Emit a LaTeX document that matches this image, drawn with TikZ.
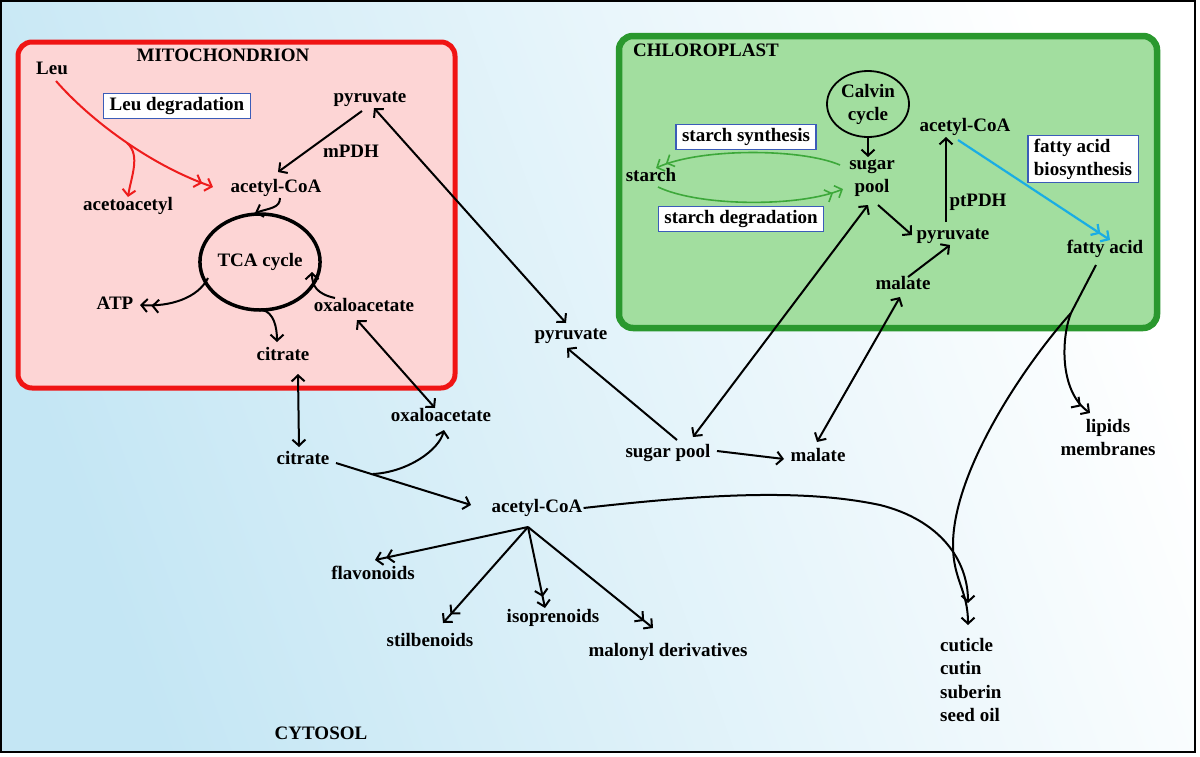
\documentclass[tikz,border=0pt]{standalone}
\usepackage{fontspec}
\setmainfont{Liberation Serif}
\usetikzlibrary{arrows.meta,shapes.geometric,calc}
\definecolor{bgblue}{HTML}{C4E6F4}
\definecolor{mitored}{HTML}{F01414}
\definecolor{mitofill}{HTML}{FDD5D5}
\definecolor{chlgreen}{HTML}{2A982E}
\definecolor{chlfill}{HTML}{A2DE9F}
\definecolor{boxblue}{HTML}{3B5CB8}
\definecolor{arrred}{HTML}{EE1C1C}
\definecolor{arrgreen}{HTML}{3DA83A}
\definecolor{arrcyan}{HTML}{1AADE4}
\begin{document}
\begin{tikzpicture}[x=1pt,y=-1pt,
  txt/.style={font=\fontsize{19}{23}\selectfont\bfseries},
  lbl/.style={txt, inner sep=1pt, text height=13.5pt, text depth=4pt},
  ml/.style={txt, inner sep=1pt, align=center},
  bx/.style={lbl, draw=boxblue, fill=white, line width=1.2pt, inner xsep=6pt, inner ysep=4pt},
  sb/.tip={Straight Barb[length=6pt,width=13pt]},
  db/.tip={Straight Barb[length=6pt,width=13pt,sep=3pt] Straight Barb[length=6pt,width=13pt]},
  ar/.style={line width=2pt, -sb},
  ard/.style={line width=2pt, -db},
  bi/.style={line width=2pt, sb-sb},
  redar/.style={draw=arrred, line width=2pt},
  grnar/.style={draw=arrgreen, line width=1.6pt, -db},
  cyanar/.style={draw=arrcyan, line width=2.2pt, -db}
]
\useasboundingbox (0,0) rectangle (1200,756);
\fill[white] (0,0) rectangle (1200,756);
\shade[top color=white, bottom color=bgblue, shading angle=-70] (1,1) rectangle (1195,752);
\draw[line width=1.2pt] (1,1) rectangle (1195,752);

% compartments
\draw[draw=mitored, fill=mitofill, line width=5pt, rounded corners=14pt] (18,42) rectangle (455,388);
\draw[draw=chlgreen, fill=chlfill, line width=6.5pt, rounded corners=14pt] (619,36) rectangle (1157,328);

% mitochondrion nodes
\node[lbl] (mtitle) at (223,57) {MITOCHONDRION};
\node[lbl] (leu) at (52,70) {Leu};
\node[bx] (leudeg) at (177,106) {Leu degradation};
\node[lbl] (pyrm) at (370,98) {pyruvate};
\node[lbl] (mpdh) at (351,153) {mPDH};
\node[lbl] (acm) at (276,188) {acetyl-CoA};
\node[lbl] (acac) at (128,206) {acetoacetyl};
\node[txt, ellipse, draw, line width=3.5pt, inner sep=0pt, minimum width=104pt, minimum height=96pt] (tca) at (260,262) {TCA cycle};
\node[lbl] (atp) at (115,305) {ATP};
\node[lbl] (oxm) at (364,307) {oxaloacetate};
\node[lbl] (citm) at (283,356) {citrate};

% chloroplast nodes
\node[lbl] (ctitle) at (706,52) {CHLOROPLAST};
\node[ml, ellipse, draw, line width=1.8pt, inner sep=0pt, minimum width=82pt, minimum height=66pt] (calvin) at (868,104) {Calvin\\cycle};
\node[ml] (sugp) at (872,178) {sugar\\pool};
\node[bx] (starsyn) at (746,137) {starch synthesis};
\node[lbl] (starch) at (651,177) {starch};
\node[bx] (stardeg) at (741,219) {starch degradation};
\node[lbl] (acp) at (965,127) {acetyl-CoA};
\node[ml, align=left, draw=boxblue, fill=white, line width=1.2pt, inner xsep=6pt, inner ysep=3pt] (fabox) at (1083,159) {fatty acid\\biosynthesis};
\node[lbl] (ptpdh) at (978,202) {ptPDH};
\node[lbl] (pyrp) at (953,235) {pyruvate};
\node[lbl] (fa) at (1105,249) {fatty acid};
\node[lbl] (malp) at (903,285) {malate};

% cytosol nodes
\node[lbl] (pyrc) at (571,335) {pyruvate};
\node[lbl] (oxc) at (441,417) {oxaloacetate};
\node[lbl] (citc) at (303,460) {citrate};
\node[lbl] (sugc) at (668,453) {sugar pool};
\node[lbl] (malc) at (818,457) {malate};
\node[lbl] (acc) at (537,508) {acetyl-CoA};
\node[lbl] (flav) at (373,575) {flavonoids};
\node[lbl] (stil) at (430,642) {stilbenoids};
\node[lbl] (iso) at (553,618) {isoprenoids};
\node[lbl] (malo) at (668,652) {malonyl derivatives};
\node[ml] (lip) at (1108,437) {lipids\\membranes};
\node[txt, font=\fontsize{19}{23.5}\selectfont\bfseries, align=left, inner sep=1pt, anchor=north west] (cut) at (939,637) {cuticle\\cutin\\suberin\\seed oil};
\node[lbl] (cyt) at (321,735) {CYTOSOL};

% mitochondrion connectors
\draw[redar, -db] ($(leu)+(4,11)$) .. controls (90,120) and (150,165) .. ($(acm)+(-63,-1)$);
\coordinate (lb) at (127,143);
\draw[redar, -sb] (lb) .. controls +(14,12) and +(3,-20) .. ($(acac)+(0,-9)$);
\draw[ar] ($(pyrm)+(-8,13)$) -- ($(acm)+(2,-16)$);
\draw[ar] ($(acm)+(4,10)$) .. controls +(0,10) and +(15,-5) .. ($(tca)+(-5,-49)$);
\draw[ard] ($(tca)+(-52,16)$) .. controls +(-10,20) and +(30,2) .. ($(atp)+(25,0)$);
\draw[ar] ($(tca)+(2,48)$) .. controls +(12,2) and +(0,-14) .. ($(citm)+(-6,-14)$);
\draw[ar] ($(oxm)+(-29,-9)$) .. controls +(-18,-4) and +(0,14) .. ($(tca)+(52,10)$);

% transport
\draw[bi] ($(oxm)+(-7,13)$) -- ($(oxc)+(-6,-9)$);
\draw[bi] ($(citm)+(15,18)$) -- ($(citc)+(-4,-13)$);
\draw[bi] ($(pyrm)+(4,10)$) -- ($(pyrc)+(-5,-12)$);
\draw[ar] ($(sugc)+(9,-13)$) -- ($(pyrc)+(-4,13)$);
\draw[bi] ($(sugc)+(25,-16)$) -- ($(sugp)+(-4,27)$);
\draw[ar] ($(sugc)+(49,-2)$) -- ($(malc)+(-34,2)$);
\draw[bi] ($(malc)+(-1,-15)$) -- ($(malp)+(-3,12)$);

% chloroplast connectors
\draw[ar] ($(malp)+(5,-8)$) -- ($(pyrp)+(-3,10)$);
\draw[ar] ($(sugp)+(6,27)$) -- ($(pyrp)+(-41,0)$);
\draw[ar] ($(pyrp)+(-7,-13)$) -- ($(acp)+(-19,10)$);
\draw[cyanar] ($(acp)+(-7,13)$) -- ($(fa)+(5,-9)$);
\draw[ar] (calvin.south) -- ($(sugp)+(-4,-21)$);
\draw[grnar] ($(sugp)+(-32,-13)$) .. controls (800,148) and (700,148) .. ($(starch)+(5,-9)$);
\draw[grnar] ($(starch)+(7,10)$) .. controls (700,207) and (800,207) .. ($(sugp)+(-29,11)$);

% fatty acid export
\coordinate (split) at (1071,313);
\draw[line width=2pt] ($(fa)+(-9,16)$) -- (split);
\draw[ard] (split) .. controls (1062,335) and (1058,390) .. ($(lip)+(-18,-24)$);
\draw[ar] (split) .. controls (1026,363) and (953,470) .. (953,545) .. controls (953,580) and (968,590) .. ($(cut.north west)+(29,-12)$);

% cytosol connectors
\draw[ar] ($(citc)+(33,3)$) -- ($(acc)+(-66,-3)$);
\coordinate (cb) at (373,474);
\draw[ar] (cb) .. controls +(35,-2) and +(-5,20) .. ($(oxc)+(3,13)$);
\coordinate (accs) at ($(acc)+(-9,19)$);
\draw[ard] (accs) -- ($(flav)+(2,-15)$);
\draw[ard] (accs) -- ($(stil)+(13,-19)$);
\draw[ard] (accs) -- ($(iso)+(-8,-10)$);
\draw[ard] (accs) -- ($(malo)+(-15,-24)$);
\draw[ar] (acc.east) .. controls (700,495) and (800,488) .. (880,505) .. controls (940,520) and (968,560) .. ($(cut.north west)+(29,-34)$);
\end{tikzpicture}
\end{document}
